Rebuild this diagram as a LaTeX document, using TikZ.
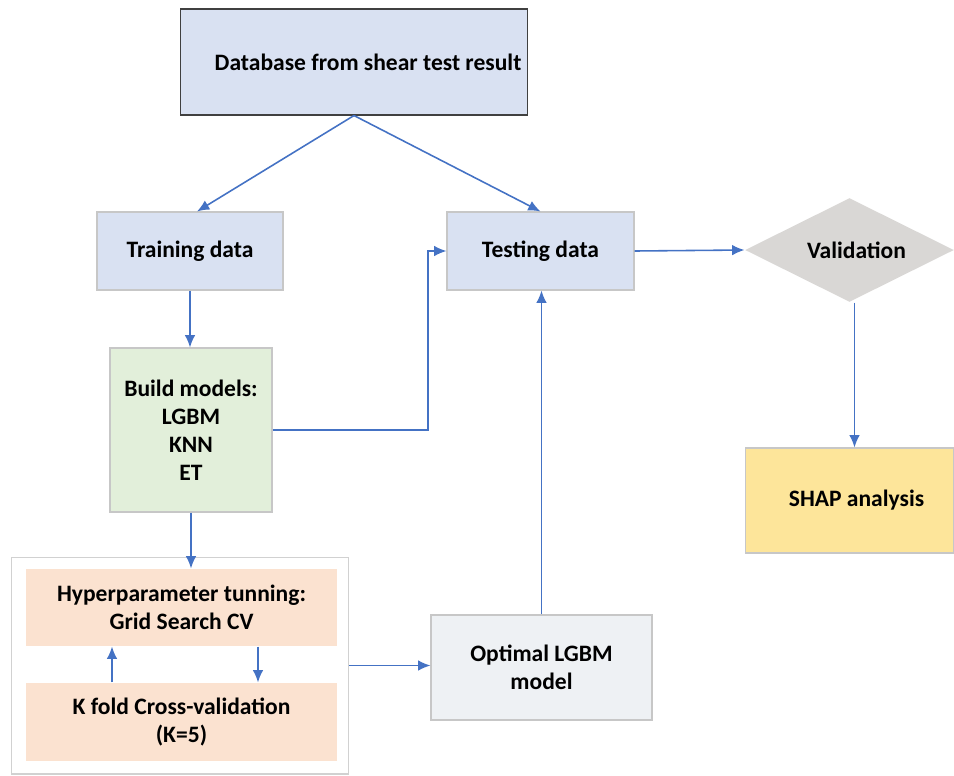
\documentclass[tikz,border=0pt]{standalone}
\usepackage{fontspec}
\setmainfont{Carlito}
\usepackage{xcolor}
\usetikzlibrary{arrows.meta, positioning, shapes.geometric, calc}
\definecolor{arrowblue}{HTML}{4472C4}
\definecolor{boxblue}{HTML}{D9E1F2}
\definecolor{boxgreen}{HTML}{E2EFDA}
\definecolor{boxpeach}{HTML}{FBE2D0}
\definecolor{boxyellow}{HTML}{FDE59A}
\definecolor{boxgrey}{HTML}{D9D7D5}
\definecolor{boxpale}{HTML}{EEF1F4}

\begin{document}
\begin{tikzpicture}[x=0.02cm, y=-0.02cm, >={Latex[length=7pt,width=6pt]},
  box/.style={draw=black!22, line width=0.6pt, align=center,
    font=\fontsize{13.4}{16}\selectfont\bfseries, inner sep=2pt},
  link/.style={->, arrowblue, line width=0.9pt}]
  \useasboundingbox (0,0) rectangle (954,775);
  % boxes
  \node[box, draw=black!75, fill=boxblue, minimum width=6.96cm, minimum height=2.12cm]
    (db) at (354,62) {\hspace*{16pt}Database from shear test result};
  \node[box, fill=boxblue, minimum width=3.72cm, minimum height=1.56cm]
    (train) at (190,251) {Training data};
  \node[box, fill=boxblue, minimum width=3.74cm, minimum height=1.56cm]
    (test) at (540.5,251) {Testing data};
  \node[box, diamond, draw=none, fill=boxgrey, aspect=2, inner sep=0pt,
    minimum width=4.18cm, minimum height=2.08cm]
    (valid) at (849.5,250) {\hspace*{8pt}Validation};
  \node[box, fill=boxgreen, minimum width=3.24cm, minimum height=3.28cm]
    (build) at (191,430) {Build models:\\LGBM\\KNN\\ET};
  \node[box, fill=boxyellow, minimum width=4.18cm, minimum height=2.1cm]
    (shap) at (849.5,500.5) {\hspace*{8pt}SHAP analysis};
  \node[draw=black!18, line width=0.6pt, minimum width=6.76cm, minimum height=4.34cm]
    (cont) at (180,665.5) {};
  \node[box, draw=none, fill=boxpeach, minimum width=6.22cm, minimum height=1.54cm]
    (hyper) at (181.5,607.5) {Hyperparameter tunning:\\Grid Search CV};
  \node[box, draw=none, fill=boxpeach, minimum width=6.22cm, minimum height=1.56cm]
    (kfold) at (181.5,722) {K fold Cross-validation\\(K=5)};
  \node[box, fill=boxpale, minimum width=4.42cm, minimum height=2.1cm]
    (opt) at (541.5,667.5) {Optimal LGBM\\model};
  % connectors
  \draw[link] (db.south) -- ([xshift=0.14cm]train.north);
  \draw[link] (db.south) -- (test.north);
  \draw[link] (train.south) -- (train.south |- build.north);
  \draw[link] (build.east) -| (428,251) -- (test.west);
  \draw[link] (test.east) -- (valid.west);
  \draw[link] ($(valid.south)+(5,0)$) -- ($(shap.north)+(5,0)$);
  \draw[link] (build.south) -- (build.south |- hyper.north);
  \draw[link] ($(hyper.south)+(76.5,0)$) -- ($(kfold.north)+(76.5,0)$);
  \draw[link] ($(kfold.north)+(-69.5,0)$) -- ($(hyper.south)+(-69.5,0)$);
  \draw[link] (cont.east) -- (cont.east -| opt.west);
  \draw[link] (opt.north) -- (opt.north |- test.south);
\end{tikzpicture}
\end{document}
